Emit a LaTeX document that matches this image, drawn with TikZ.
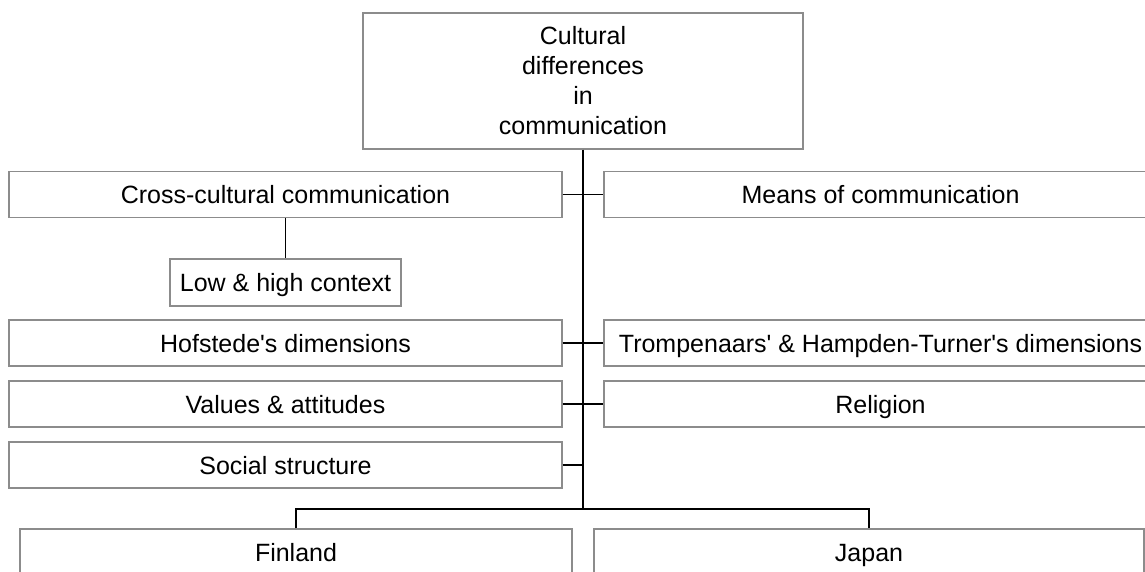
\documentclass[tikz,border=0pt]{standalone}
\usepackage{fontspec}
\setmainfont{Liberation Sans}
\usetikzlibrary{positioning}

\tikzset{
  box/.style={draw=black!45, line width=1.4pt, fill=white, inner sep=0pt,
    minimum width=553pt, minimum height=46pt, text height=18pt, text depth=0pt,
    font=\fontsize{25}{30}\selectfont},
  wire/.style={black, line width=1.6pt}
}

\begin{document}
\begin{tikzpicture}[x=1pt, y=-1pt]
\clip (0,0) rectangle (1145,571);
\useasboundingbox (0,0) rectangle (1145,571);

% top of the tree
\node[box, text height=, text depth=, minimum width=440pt, minimum height=136pt, align=center] (top) at (583,81)
  {Cultural\\differences\\in\\communication};

% left column
\node[box] (cross) at (285.5,194.5) {Cross-cultural communication};
\node[box, minimum width=231pt, minimum height=47pt] (context) at (285.5,282.5) {Low \& high context};
\node[box] (hofstede) at (285.5,343) {Hofstede\textquotesingle s dimensions};
\node[box] (values) at (285.5,404) {Values \& attitudes};
\node[box] (social) at (285.5,465) {Social structure};

% right column
\node[box] (means) at (880.5,194.5) {Means of communication};
\node[box] (trompenaars) at (880.5,343) {Trompenaars\textquotesingle{} \& Hampden-Turner\textquotesingle s dimensions};
\node[box] (religion) at (880.5,404) {Religion};

% countries
\node[box, minimum width=552pt] (finland) at (296,552) {Finland};
\node[box, minimum width=550pt] (japan) at (869,552) {Japan};

\coordinate (bus) at (583,509);
\coordinate (busl) at (296,509);
\coordinate (busr) at (869,509);

\draw[wire] (top.south) -- (bus);
\draw[wire] (cross.east) -- (means.west);
\draw[wire] (hofstede.east) -- (trompenaars.west);
\draw[wire] (values.east) -- (religion.west);
\draw[wire] (social.east) -- (social.east -| bus);
\draw[wire] (cross.south) -- (context.north);
\draw[wire] (finland.north) -- (busl) -- (busr) -- (japan.north);
\end{tikzpicture}
\end{document}
